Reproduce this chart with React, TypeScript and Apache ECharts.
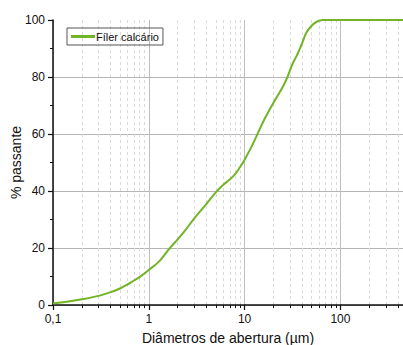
import React, { useEffect, useRef } from "react";
import * as echarts from "echarts";

const diameters = [0.1, 0.15, 0.2, 0.3, 0.4, 0.5, 0.6, 0.7, 0.8, 1, 1.3, 1.66, 2, 2.5, 3, 4, 5, 6, 7, 8, 9, 10, 12, 16, 20, 25, 28, 32, 35, 40, 44, 50, 56, 65, 100, 200, 450];
const passing = [0.5, 1.3, 2, 3.2, 4.5, 5.8, 7.2, 8.6, 9.8, 12.3, 15.5, 20, 23, 27, 30.5, 35.5, 39.5, 42.2, 44, 46, 48.5, 51, 56, 65, 71, 76.5, 80, 85, 87.5, 92, 95.5, 98, 99.3, 100, 100, 100, 100];
const minorValues = [0.2, 0.3, 0.4, 0.5, 0.6, 0.7, 0.8, 0.9, 2, 3, 4, 5, 6, 7, 8, 9, 20, 30, 40, 50, 60, 70, 80, 90, 200, 300, 400];
const seriesName = "Fíler calcário";

export default function App() {
  const ref = useRef<HTMLDivElement>(null);
  useEffect(() => {
    if (!ref.current) return;
    const chart = echarts.init(ref.current, undefined, { renderer: "svg" });
    const font = "Liberation Sans, Arial, sans-serif";
    chart.setOption({
      animation: false,
      grid: { left: 53, top: 20, right: 0, bottom: 40, outerBoundsMode: "none", containLabel: false },
      legend: {
        data: [seriesName],
        left: 67,
        top: 28,
        orient: "vertical",
        borderColor: "#555",
        borderWidth: 1,
        padding: [3, 4, 3, 4],
        itemWidth: 24,
        itemHeight: 3,
        icon: "rect",
        textStyle: { fontFamily: font, fontSize: 11, color: "#111", padding: [0, 0, 0, -4] },
      },
      xAxis: [
        {
          type: "log",
          logBase: 10,
          min: 0.1,
          max: 450,
          name: "Diâmetros de abertura (µm)",
          nameLocation: "middle",
          nameGap: 26,
          nameMoveOverlap: false,
          nameTextStyle: { fontFamily: font, fontSize: 14, color: "#111" },
          axisLine: { show: true, lineStyle: { color: "#111", width: 1.5 } },
          axisTick: { show: true, length: 5, lineStyle: { color: "#111", width: 1.2 } },
          axisLabel: {
            fontFamily: font,
            fontSize: 12,
            color: "#111",
            margin: 8,
            showMaxLabel: false,
            formatter: (v: number) => String(v).replace(".", ","),
          },
          splitLine: { show: true, lineStyle: { color: "#bdbdbd", width: 1 } },
        },
        {
          type: "log",
          logBase: 10,
          min: 0.1,
          max: 450,
          position: "bottom",
          axisLine: { show: false },
          axisTick: { show: true, length: 3, customValues: minorValues, lineStyle: { color: "#111", width: 1 } },
          axisLabel: { show: false, customValues: minorValues },
          splitLine: { show: true, lineStyle: { color: "#dadada", width: 1, type: [3, 3] } },
        },
      ],
      yAxis: {
        type: "value",
        min: 0,
        max: 100,
        interval: 20,
        name: "% passante",
        nameLocation: "middle",
        nameGap: 30,
        nameMoveOverlap: false,
        nameTextStyle: { fontFamily: font, fontSize: 14, color: "#111" },
        axisLine: { show: true, lineStyle: { color: "#111", width: 1.5 } },
        axisTick: { show: true, length: 5, lineStyle: { color: "#111", width: 1.2 } },
        minorTick: { show: true, splitNumber: 2, length: 3, lineStyle: { color: "#111", width: 1 } },
        axisLabel: { fontFamily: font, fontSize: 12, color: "#111", margin: 8 },
        splitLine: { show: true, showMaxLine: false, lineStyle: { color: "#b5b5b5", width: 1 } },
      },
      series: [
        {
          name: seriesName,
          type: "line",
          xAxisIndex: 0,
          data: diameters.map((d, i) => [d, passing[i]]),
          smooth: 0.3,
          showSymbol: false,
          symbol: "none",
          lineStyle: { color: "#72b426", width: 2 },
          itemStyle: { color: "#72b426" },
        },
      ],
    });
    return () => chart.dispose();
  }, []);
  return <div ref={ref} style={{ position: "absolute", left: 0, top: 0, width: 403, height: 345 }} />;
}
